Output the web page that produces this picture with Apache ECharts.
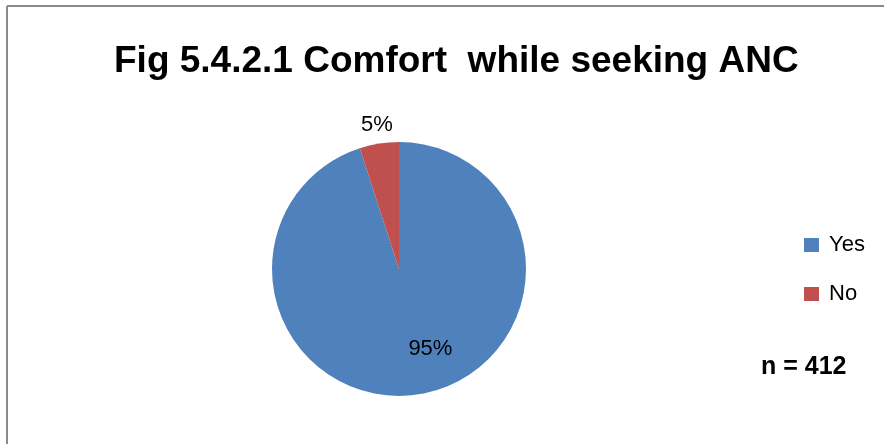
<!DOCTYPE html>
<html>
<head>
<meta charset="utf-8">
<script src="https://cdn.jsdelivr.net/npm/echarts@6/dist/echarts.min.js"></script>
<style>
  html, body { margin: 0; padding: 0; background: #fff; }
  #chart { width: 884px; height: 444px; }
</style>
</head>
<body>
<div id="chart"></div>
<script>
// Responses on comfort while seeking antenatal care
const categories = ['Yes', 'No'];
const shares = [95, 5];
const colors = ['#4F81BD', '#C0504D'];
const titleText = 'Fig 5.4.2.1 Comfort  while seeking ANC';
const sampleNote = 'n = 412';

const chart = echarts.init(document.getElementById('chart'), null, { renderer: 'canvas' });

const font = '"Liberation Sans", Arial, sans-serif';

// small nudges so the percentage labels sit where the slice text usually goes
const labelShift = [[21, 14], [20, -11]];

chart.setOption({
  animation: false,
  backgroundColor: '#fff',
  title: {
    text: titleText,
    left: 114,
    top: 43,
    padding: 0,
    textStyle: { fontFamily: font, fontSize: 37, fontWeight: 'bold', color: '#000' }
  },
  legend: {
    orient: 'vertical',
    left: 804,
    top: 234,
    padding: 0,
    itemWidth: 15,
    itemHeight: 14,
    itemGap: 27,
    icon: 'rect',
    data: categories,
    textStyle: { fontFamily: font, fontSize: 22, color: '#000', lineHeight: 14, padding: [0, 0, 0, 5] }
  },
  graphic: [
    { type: 'line', shape: { x1: 7, y1: 6, x2: 884, y2: 6 }, style: { stroke: '#8a8a8a', lineWidth: 2 } },
    { type: 'line', shape: { x1: 7, y1: 6, x2: 7, y2: 444 }, style: { stroke: '#8a8a8a', lineWidth: 2 } },
    {
      type: 'text', left: 761, top: 355,
      style: { text: sampleNote, font: 'bold 25px ' + font, fill: '#000' }
    }
  ],
  series: [{
    type: 'pie',
    center: [399, 269],
    radius: 127,
    startAngle: 90,
    clockwise: true,
    silent: true,
    label: {
      show: true,
      formatter: '{d}%',
      fontFamily: font,
      fontSize: 22,
      color: '#000'
    },
    labelLine: { show: false },
    labelLayout: function (params) {
      const s = labelShift[params.dataIndex];
      return { dx: s[0], dy: s[1] };
    },
    data: categories.map((name, i) => ({
      name,
      value: shares[i],
      itemStyle: { color: colors[i] },
      label: i === 0 ? { position: 'inside' } : { position: 'outside' },
      labelLine: { show: false, length: 8, length2: 0 }
    }))
  }]
});
</script>
</body>
</html>
